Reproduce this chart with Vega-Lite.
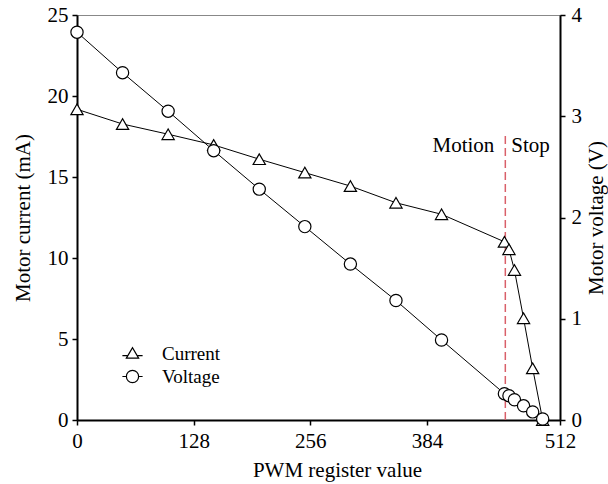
{
  "$schema": "https://vega.github.io/schema/vega-lite/v6.json",
  "width": 483,
  "height": 405,
  "autosize": {"type": "none"},
  "padding": {"left": 77, "top": 15, "right": 48, "bottom": 64},
  "background": "white",
  "config": {
    "font": "Liberation Serif",
    "view": {"stroke": "#888888", "strokeWidth": 1},
    "axis": {
      "labelFont": "Liberation Serif",
      "titleFont": "Liberation Serif",
      "labelFontSize": 21,
      "titleFontSize": 21,
      "titleFontWeight": "normal",
      "labelColor": "black",
      "titleColor": "black",
      "domainColor": "black",
      "tickColor": "black",
      "domainWidth": 2,
      "tickWidth": 1.5,
      "tickSize": 5,
      "grid": false,
      "labelFlush": false
    },
    "legend": {"labelFont": "Liberation Serif"}
  },
  "datasets": {
    "motor": [
      {"pwm": 0, "current": 19.18, "voltage": 3.83},
      {"pwm": 50, "current": 18.27, "voltage": 3.43},
      {"pwm": 100, "current": 17.64, "voltage": 3.05},
      {"pwm": 150, "current": 16.98, "voltage": 2.66},
      {"pwm": 200, "current": 16.1, "voltage": 2.28},
      {"pwm": 250, "current": 15.27, "voltage": 1.91},
      {"pwm": 300, "current": 14.44, "voltage": 1.54},
      {"pwm": 350, "current": 13.41, "voltage": 1.18},
      {"pwm": 400, "current": 12.7, "voltage": 0.79},
      {"pwm": 469, "current": 11.0, "voltage": 0.26},
      {"pwm": 474, "current": 10.54, "voltage": 0.24},
      {"pwm": 480, "current": 9.26, "voltage": 0.2},
      {"pwm": 490, "current": 6.28, "voltage": 0.14},
      {"pwm": 500, "current": 3.19, "voltage": 0.08},
      {"pwm": 511, "current": 0, "voltage": 0.01}
    ],
    "marker": [{"pwm": 470, "lo": 0, "hi": 17.6}],
    "notes": [
      {"pwm": 470, "current": 16.56, "label": "Motion"},
      {"pwm": 470, "current": 16.56, "label": "Stop"}
    ]
  },
  "layer": [
    {
      "encoding": {
        "x": {
          "field": "pwm", "type": "quantitative",
          "scale": {"domain": [0, 530], "nice": false, "zero": false},
          "axis": {
            "title": "PWM register value",
            "values": [0, 128, 256, 384, 530],
            "labelExpr": "datum.value == 530 ? '512' : datum.label",
            "labelPadding": 5,
            "titlePadding": 8,
            "titleX": 260
          }
        },
        "y": {
          "field": "current", "type": "quantitative",
          "scale": {"domain": [0, 25], "nice": false, "zero": false},
          "axis": {
            "title": "Motor current (mA)",
            "values": [0, 5, 10, 15, 20, 25],
            "labelPadding": 4,
            "titlePadding": 14
          }
        }
      },
      "layer": [
        {
          "data": {"name": "motor"},
          "mark": {"type": "line", "color": "black", "strokeWidth": 1, "clip": false}
        },
        {
          "data": {"name": "marker"},
          "mark": {"type": "rule", "color": "#d9606a", "strokeWidth": 1.5, "strokeDash": [8, 4]},
          "encoding": {
            "y": {"field": "lo", "type": "quantitative"},
            "y2": {"field": "hi"}
          }
        },
        {
          "data": {"name": "motor"},
          "mark": {"type": "point", "shape": "triangle-up", "filled": false, "fill": "white", "stroke": "black", "strokeWidth": 1.2, "size": 150, "opacity": 1, "clip": false}
        },
        {
          "data": {"name": "motor"},
          "mark": {"type": "point", "filled": false, "stroke": "black", "size": 150, "opacity": 0, "clip": false},
          "encoding": {
            "shape": {
              "datum": "Current",
              "type": "nominal",
              "scale": {
                "domain": ["Current", "Voltage"],
                "range": [
                  "M-1.65,0.35L-0.77,0.35M0.77,0.35L1.65,0.35M-1,0.75L0,-0.95L1,0.75Z",
                  "M-1.65,0L-1,0M1,0L1.65,0M-1,0A1,1,0,1,0,1,0A1,1,0,1,0,-1,0Z"
                ]
              },
              "legend": {
                "title": null,
                "orient": "none",
                "legendX": 46,
                "legendY": 329,
                "padding": 0,
                "symbolSize": 150,
                "symbolOpacity": 1,
                "symbolStrokeColor": "black",
                "symbolStrokeWidth": 1.2,
                "labelFontSize": 19,
                "labelColor": "black",
                "labelOffset": 20,
                "rowPadding": 3
              }
            }
          }
        },
        {
          "data": {"name": "notes"},
          "transform": [{"filter": "datum.label === 'Motion'"}],
          "mark": {"type": "text", "align": "right", "baseline": "alphabetic", "dx": -11, "fontSize": 21, "color": "black"},
          "encoding": {"text": {"field": "label"}}
        },
        {
          "data": {"name": "notes"},
          "transform": [{"filter": "datum.label === 'Stop'"}],
          "mark": {"type": "text", "align": "left", "baseline": "alphabetic", "dx": 6, "fontSize": 21, "color": "black"},
          "encoding": {"text": {"field": "label"}}
        }
      ]
    },
    {
      "data": {"name": "motor"},
      "encoding": {
        "x": {"field": "pwm", "type": "quantitative"},
        "y": {
          "field": "voltage", "type": "quantitative",
          "scale": {"domain": [0, 4], "nice": false, "zero": false},
          "axis": {
            "orient": "right",
            "title": "Motor voltage (V)",
            "values": [0, 1, 2, 3, 4],
            "labelPadding": 6,
            "titlePadding": 4,
            "titleAngle": 270,
            "titleBaseline": "top"
          }
        }
      },
      "layer": [
        {
          "mark": {"type": "line", "color": "black", "strokeWidth": 1, "clip": false}
        },
        {
          "mark": {"type": "point", "shape": "circle", "filled": false, "fill": "white", "stroke": "black", "strokeWidth": 1.2, "size": 150, "opacity": 1, "clip": false}
        },
        {
          "mark": {"type": "point", "filled": false, "stroke": "black", "size": 150, "opacity": 0, "clip": false},
          "encoding": {
            "shape": {"datum": "Voltage", "type": "nominal"}
          }
        }
      ]
    }
  ],
  "resolve": {"scale": {"y": "independent"}}
}
